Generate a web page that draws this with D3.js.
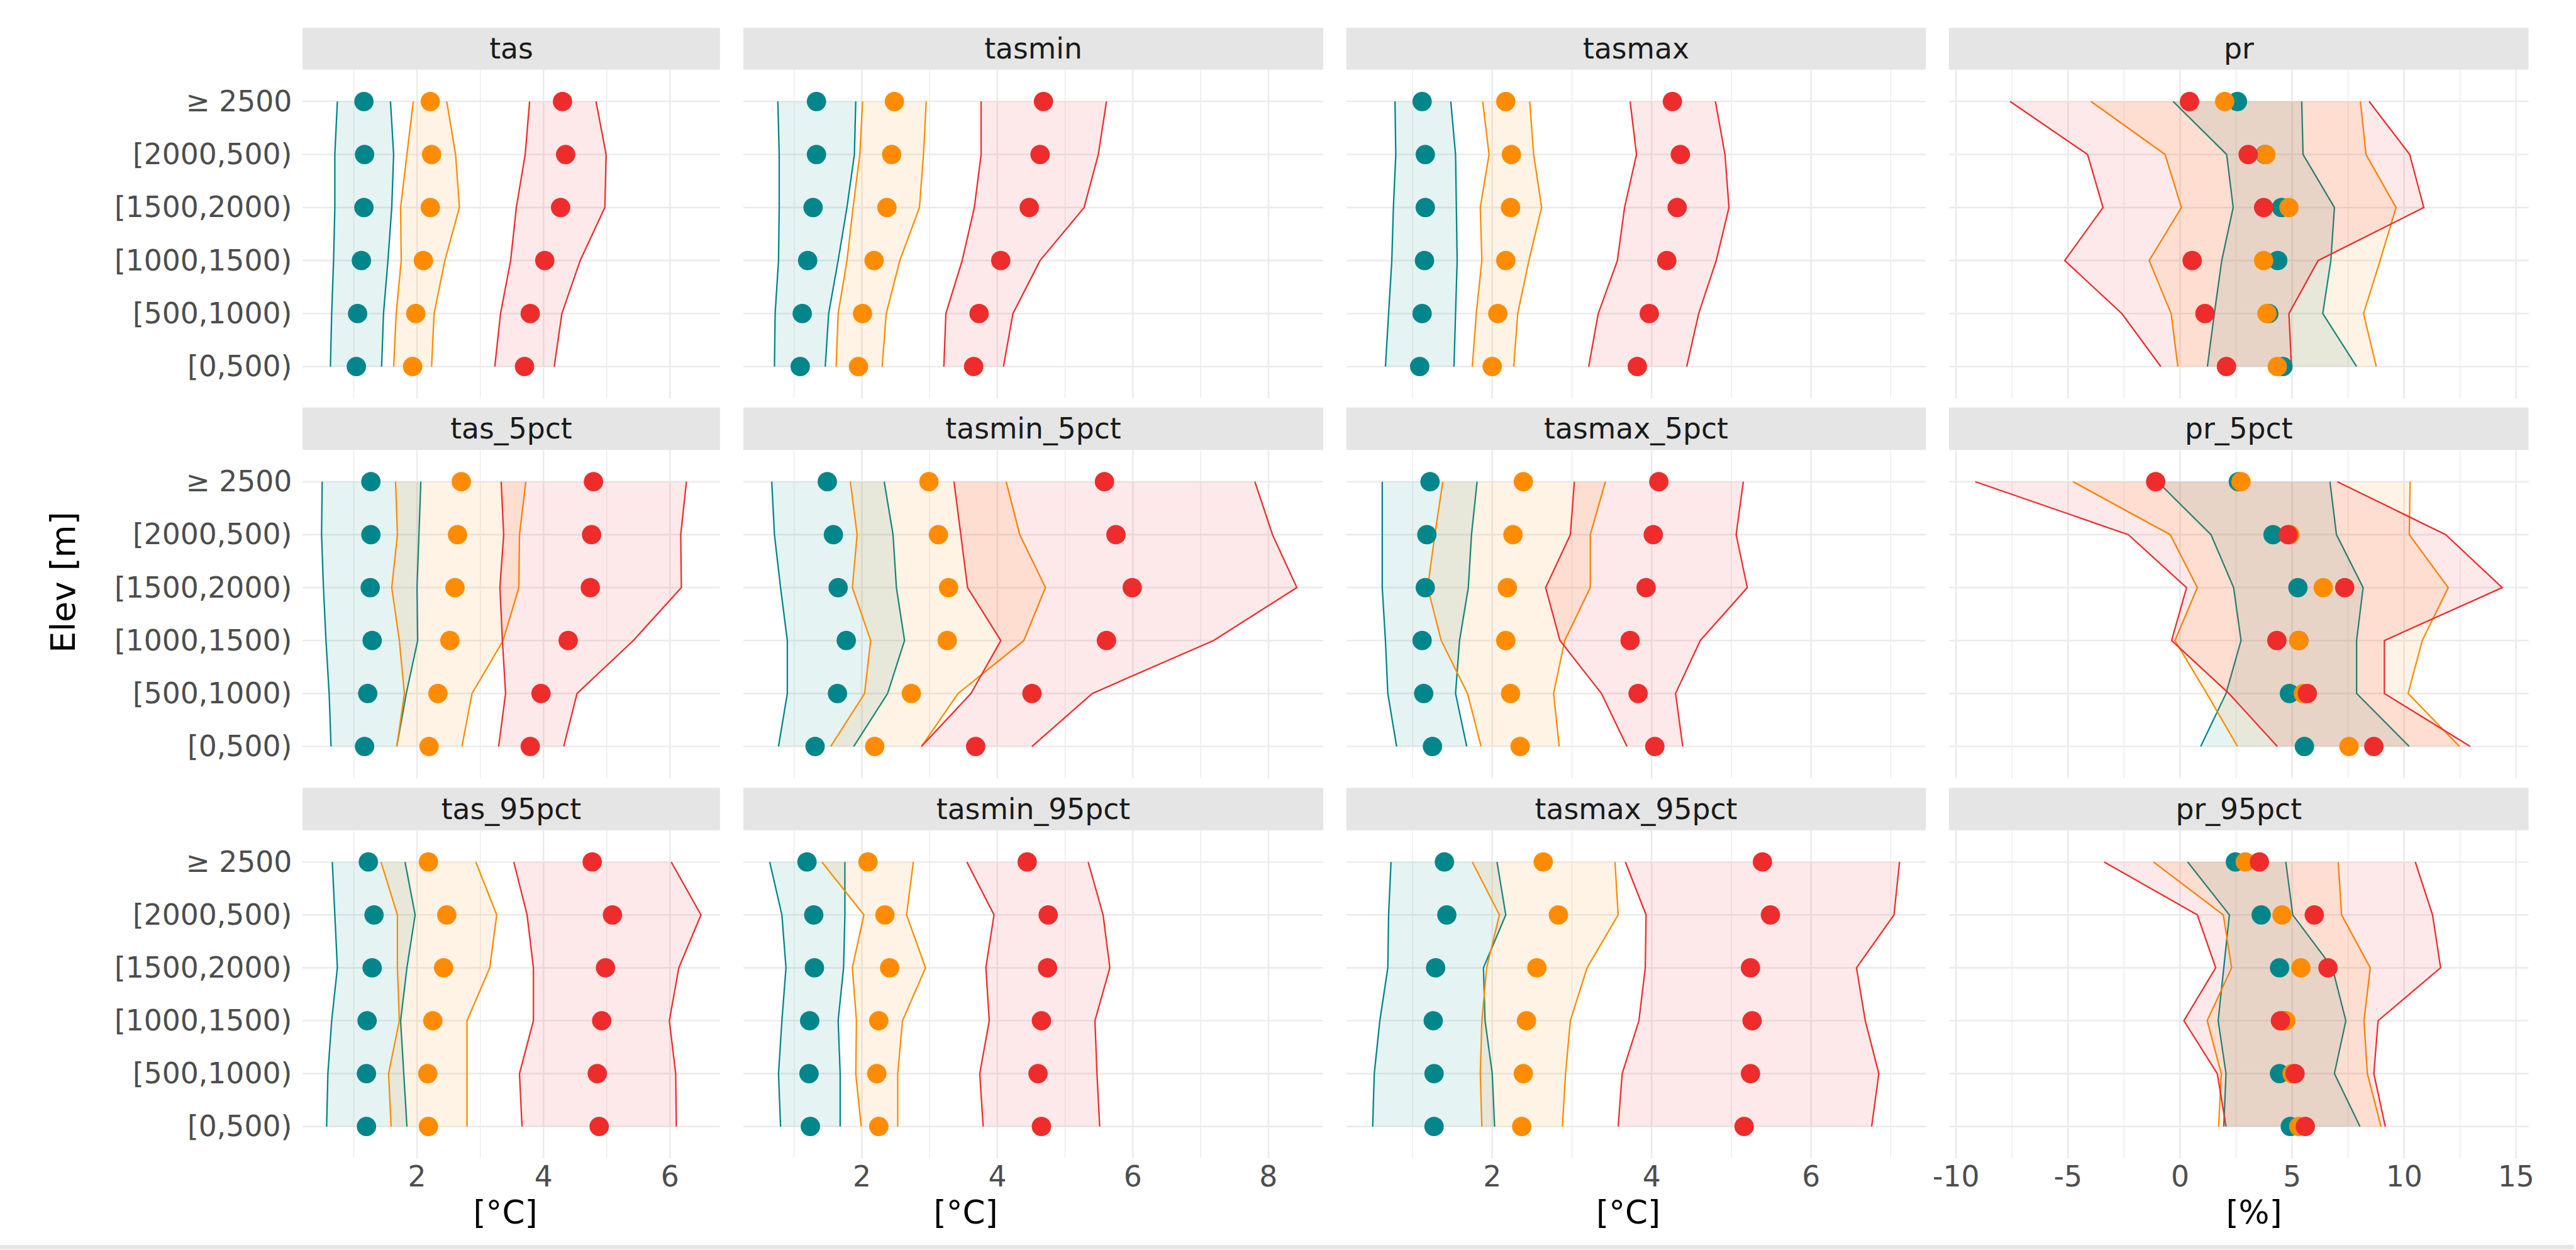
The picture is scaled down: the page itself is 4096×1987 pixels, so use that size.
<!DOCTYPE html>
<html>
<head>
<meta charset="utf-8">
<script src="https://cdn.jsdelivr.net/npm/d3@7"></script>
<style>
html,body{margin:0;padding:0;background:#fff;}
svg{display:block;}
</style>
</head>
<body>
<svg id="chart" width="4096" height="1987"></svg>
<script>
// ---------------- DATA ----------------
// elevation bands, top to bottom as displayed
const elevCats = ["≥ 2500", "[2000,500)", "[1500,2000)", "[1000,1500)", "[500,1000)", "[0,500)"];
const panelRows = [
  ["tas", "tasmin", "tasmax", "pr"],
  ["tas_5pct", "tasmin_5pct", "tasmax_5pct", "pr_5pct"],
  ["tas_95pct", "tasmin_95pct", "tasmax_95pct", "pr_95pct"]
];
const colTitles = ["[°C]", "[°C]", "[°C]", "[%]"];
const colTicks = [[2, 4, 6], [2, 4, 6, 8], [2, 4, 6], [-10, -5, 0, 5, 10, 15]];
const colMinor = [[1, 3, 5], [1, 3, 5, 7], [1, 3, 5, 7], [-7.5, -2.5, 2.5, 7.5, 12.5]];
const seriesColors = ["#00868B", "#FF8C00", "#EE2C2C"];

// each: [teal, orange, red], values per elevation band (top to bottom)
const tas_mid = [[1.16,1.17,1.16,1.12,1.06,1.04],[2.21,2.23,2.21,2.10,1.98,1.93],[4.30,4.35,4.27,4.02,3.79,3.70]];
const tas_lo  = [[0.74,0.70,0.70,0.68,0.65,0.63],[1.94,1.84,1.74,1.75,1.67,1.63],[3.78,3.71,3.57,3.48,3.32,3.23]];
const tas_hi  = [[1.58,1.63,1.60,1.54,1.47,1.44],[2.47,2.61,2.67,2.44,2.27,2.23],[4.83,4.99,4.97,4.58,4.29,4.17]];

const tasmin_mid = [[1.33,1.33,1.28,1.20,1.12,1.09],[2.48,2.44,2.37,2.18,2.01,1.95],[4.68,4.63,4.47,4.05,3.73,3.65]];
const tasmin_lo  = [[0.76,0.78,0.78,0.77,0.72,0.71],[2.01,1.97,1.87,1.78,1.65,1.62],[3.76,3.76,3.66,3.48,3.24,3.21]];
const tasmin_hi  = [[1.91,1.89,1.78,1.65,1.51,1.46],[2.95,2.91,2.85,2.56,2.36,2.30],[5.61,5.49,5.28,4.63,4.23,4.09]];

const tasmax_mid = [[1.12,1.16,1.16,1.15,1.12,1.09],[2.17,2.24,2.23,2.17,2.07,2.00],[4.26,4.36,4.32,4.19,3.97,3.82]];
const tasmax_lo  = [[0.78,0.79,0.76,0.74,0.70,0.66],[1.88,1.96,1.85,1.87,1.80,1.75],[3.73,3.81,3.66,3.57,3.33,3.21]];
const tasmax_hi  = [[1.48,1.54,1.55,1.56,1.54,1.52],[2.47,2.52,2.62,2.46,2.32,2.27],[4.80,4.92,4.97,4.81,4.59,4.44]];

const pr_mid = [[2.56,3.80,4.53,4.36,3.96,4.59],[1.99,3.83,4.86,3.73,3.88,4.34],[0.42,3.04,3.73,0.54,1.11,2.07]];
const pr_lo  = [[-0.31,2.08,2.37,1.86,1.53,1.22],[-3.98,-0.67,0.06,-1.38,-0.40,-0.10],[-7.59,-4.13,-3.44,-5.15,-2.60,-0.86]];
const pr_hi  = [[5.43,5.49,6.89,6.73,6.37,7.88],[8.05,8.30,9.64,8.93,8.19,8.76],[8.44,10.25,10.88,6.16,4.86,4.97]];

const tas_5pct_mid = [[1.27,1.27,1.26,1.29,1.22,1.17],[2.70,2.64,2.60,2.52,2.33,2.19],[4.79,4.76,4.74,4.39,3.96,3.79]];
const tas_5pct_lo  = [[0.50,0.49,0.52,0.56,0.61,0.64],[1.66,1.69,1.60,1.72,1.80,1.68],[3.33,3.37,3.31,3.35,3.40,3.29]];
const tas_5pct_hi  = [[2.06,2.03,2.00,2.01,1.83,1.68],[3.72,3.62,3.61,3.36,2.87,2.71],[6.26,6.17,6.18,5.42,4.53,4.32]];

const tasmin_5pct_mid = [[1.49,1.58,1.65,1.77,1.64,1.31],[2.99,3.13,3.28,3.26,2.73,2.19],[5.58,5.75,5.99,5.61,4.51,3.68]];
const tasmin_5pct_lo  = [[0.67,0.71,0.80,0.90,0.90,0.77],[1.83,1.93,1.86,2.13,2.04,1.54],[3.36,3.46,3.56,4.05,3.61,2.88]];
const tasmin_5pct_hi  = [[2.33,2.46,2.51,2.63,2.38,1.88],[4.13,4.33,4.71,4.39,3.42,2.88],[7.80,8.06,8.42,7.19,5.40,4.51]];

const tasmax_5pct_mid = [[1.22,1.18,1.16,1.12,1.14,1.25],[2.39,2.26,2.19,2.17,2.23,2.35],[4.09,4.02,3.93,3.73,3.83,4.04]];
const tasmax_5pct_lo  = [[0.62,0.62,0.62,0.66,0.69,0.80],[1.38,1.28,1.19,1.36,1.69,1.86],[3.03,2.98,2.67,2.85,3.37,3.69]];
const tasmax_5pct_hi  = [[1.81,1.74,1.70,1.59,1.54,1.68],[3.42,3.23,3.23,2.91,2.77,2.84],[5.15,5.06,5.20,4.61,4.30,4.39]];

const pr_5pct_mid = [[2.60,4.15,5.26,5.30,4.88,5.55],[2.72,4.90,6.39,5.30,5.50,7.54],[-1.09,4.82,7.35,4.32,5.68,8.65]];
const pr_5pct_lo  = [[-1.00,1.38,2.39,2.72,2.05,0.92],[-4.78,-0.44,0.77,-0.23,1.19,2.56],[-9.14,-2.31,0.29,-0.38,2.18,4.34]];
const pr_5pct_hi  = [[6.69,6.98,8.17,7.88,7.88,10.23],[10.27,10.23,11.97,10.81,10.18,12.47],[7.02,11.86,14.38,9.12,9.12,12.95]];

const tas_95pct_mid = [[1.23,1.32,1.29,1.21,1.20,1.20],[2.18,2.47,2.42,2.25,2.17,2.18],[4.77,5.09,4.98,4.92,4.85,4.88]];
const tas_95pct_lo  = [[0.66,0.70,0.74,0.65,0.59,0.57],[1.43,1.69,1.69,1.72,1.55,1.59],[3.53,3.74,3.84,3.84,3.62,3.66]];
const tas_95pct_hi  = [[1.81,1.97,1.84,1.74,1.79,1.84],[2.93,3.26,3.15,2.79,2.79,2.79],[6.02,6.49,6.14,5.99,6.09,6.10]];

const tasmin_95pct_mid = [[1.19,1.29,1.30,1.23,1.22,1.24],[2.09,2.34,2.41,2.25,2.22,2.25],[4.44,4.75,4.74,4.65,4.60,4.65]];
const tasmin_95pct_lo  = [[0.64,0.82,0.88,0.82,0.77,0.80],[1.41,2.03,1.86,1.92,1.91,1.99],[3.55,3.95,3.83,3.88,3.74,3.79]];
const tasmin_95pct_hi  = [[1.75,1.75,1.73,1.65,1.68,1.68],[2.76,2.66,2.94,2.60,2.53,2.53],[5.34,5.56,5.66,5.44,5.47,5.51]];

const tasmax_95pct_mid = [[1.40,1.43,1.29,1.26,1.27,1.27],[2.64,2.83,2.56,2.43,2.39,2.37],[5.39,5.49,5.24,5.26,5.24,5.16]];
const tasmax_95pct_lo  = [[0.73,0.70,0.69,0.59,0.52,0.50],[1.75,2.09,1.93,1.87,1.85,1.87],[3.67,3.93,3.92,3.84,3.63,3.58]];
const tasmax_95pct_hi  = [[2.06,2.17,1.89,1.91,2.00,2.03],[3.54,3.58,3.19,2.98,2.92,2.88],[7.11,7.04,6.57,6.68,6.85,6.76]];

const pr_95pct_mid = [[2.47,3.62,4.44,4.60,4.44,4.92],[2.91,4.55,5.39,4.72,5.00,5.30],[3.54,5.99,6.60,4.48,5.13,5.59]];
const pr_95pct_lo  = [[0.34,2.20,1.95,1.70,2.05,1.95],[-1.19,1.93,2.30,1.21,1.84,1.72],[-3.39,0.77,1.59,0.17,1.66,2.05]];
const pr_95pct_hi  = [[4.72,5.03,6.80,7.40,6.89,8.03],[7.06,7.21,8.49,8.21,8.36,8.97],[10.50,11.27,11.63,8.84,8.65,9.16]];

const panelData = {
  tas: [tas_mid, tas_lo, tas_hi],
  tasmin: [tasmin_mid, tasmin_lo, tasmin_hi],
  tasmax: [tasmax_mid, tasmax_lo, tasmax_hi],
  pr: [pr_mid, pr_lo, pr_hi],
  tas_5pct: [tas_5pct_mid, tas_5pct_lo, tas_5pct_hi],
  tasmin_5pct: [tasmin_5pct_mid, tasmin_5pct_lo, tasmin_5pct_hi],
  tasmax_5pct: [tasmax_5pct_mid, tasmax_5pct_lo, tasmax_5pct_hi],
  pr_5pct: [pr_5pct_mid, pr_5pct_lo, pr_5pct_hi],
  tas_95pct: [tas_95pct_mid, tas_95pct_lo, tas_95pct_hi],
  tasmin_95pct: [tasmin_95pct_mid, tasmin_95pct_lo, tasmin_95pct_hi],
  tasmax_95pct: [tasmax_95pct_mid, tasmax_95pct_lo, tasmax_95pct_hi],
  pr_95pct: [pr_95pct_mid, pr_95pct_lo, pr_95pct_hi]
};

// ---------------- LAYOUT (reference pixel units) ----------------
const S = 0.992;
const colX = [[485, 1154], [1191.5, 2121], [2158, 3087], [3124, 4053]];
const rowY = [ // [stripTop, panelTop, panelBottom]
  [44.6, 111.6, 638.4],
  [653, 721, 1247],
  [1262.5, 1330.4, 1856]
];
const titleX = [810, 1548, 2610, 3613];
const FONT = "DejaVu Sans";

const svg = d3.select("#chart");
const root = svg.append("g").attr("transform", `scale(${S})`);

// faint bottom band present in the reference
root.append("rect").attr("x", 0).attr("y", 1995).attr("width", 4126).attr("height", 7).attr("fill", "#e1e6e6");

// x scales per column, with 5% expansion like ggplot
const xScales = colX.map((cx, c) => {
  const vals = [];
  panelRows.forEach(r => panelData[r[c]].forEach(arr => arr.forEach(s => s.forEach(v => vals.push(v)))));
  const [mn, mx] = d3.extent(vals);
  const pad = (mx - mn) * 0.05;
  return d3.scaleLinear().domain([mn - pad, mx + pad]).range(cx);
});

rowY.forEach((ry, r) => {
  const y = d3.scalePoint().domain(elevCats).range([ry[1], ry[2]]).padding(0.6);
  colX.forEach((cx, c) => {
    const name = panelRows[r][c];
    const x = xScales[c];
    const g = root.append("g");
    // strip
    g.append("rect").attr("x", cx[0]).attr("y", ry[0]).attr("width", cx[1] - cx[0]).attr("height", ry[1] - ry[0]).attr("fill", "#e5e5e5");
    g.append("text").attr("x", (cx[0] + cx[1]) / 2).attr("y", (ry[0] + ry[1]) / 2)
      .attr("text-anchor", "middle").attr("dominant-baseline", "central")
      .attr("font-family", FONT).attr("font-size", 46).attr("fill", "#1a1a1a").text(name);
    // grid
    const grid = g.append("g");
    grid.selectAll(".vmin").data(colMinor[c]).join("line")
      .attr("x1", d => x(d)).attr("x2", d => x(d)).attr("y1", ry[1]).attr("y2", ry[2])
      .attr("stroke", "#ebebeb").attr("stroke-width", 1.4);
    grid.selectAll(".vmaj").data(colTicks[c]).join("line")
      .attr("x1", d => x(d)).attr("x2", d => x(d)).attr("y1", ry[1]).attr("y2", ry[2])
      .attr("stroke", "#ebebeb").attr("stroke-width", 2.6);
    grid.selectAll(".h").data(elevCats).join("line")
      .attr("x1", cx[0]).attr("x2", cx[1]).attr("y1", d => y(d)).attr("y2", d => y(d))
      .attr("stroke", "#ebebeb").attr("stroke-width", 2.6);

    const [mid, lo, hi] = panelData[name];
    // ribbons (fill + outline per series)
    seriesColors.forEach((col, s) => {
      const pts = elevCats.map((e, i) => ({ e, lo: lo[s][i], hi: hi[s][i] }));
      const area = d3.area().y(d => y(d.e)).x0(d => x(d.lo)).x1(d => x(d.hi));
      g.append("path").attr("d", area(pts)).attr("fill", col).attr("fill-opacity", 0.1);
      const lnLo = d3.line().y(d => y(d.e)).x(d => x(d.lo));
      const lnHi = d3.line().y(d => y(d.e)).x(d => x(d.hi));
      g.append("path").attr("d", lnLo(pts)).attr("fill", "none").attr("stroke", col).attr("stroke-width", 2.3);
      g.append("path").attr("d", lnHi(pts)).attr("fill", "none").attr("stroke", col).attr("stroke-width", 2.3);
    });
    // points
    seriesColors.forEach((col, s) => {
      g.selectAll(null).data(elevCats.map((e, i) => ({ e, v: mid[s][i] }))).join("circle")
        .attr("cx", d => x(d.v)).attr("cy", d => y(d.e)).attr("r", 15.5).attr("fill", col);
    });

    // y axis labels (first column)
    if (c === 0) {
      g.selectAll(null).data(elevCats).join("text")
        .attr("x", 468).attr("y", d => y(d)).attr("text-anchor", "end").attr("dominant-baseline", "central")
        .attr("font-family", FONT).attr("font-size", 46).attr("fill", "#4d4d4d").text(d => d);
    }
    // x axis labels (bottom row)
    if (r === rowY.length - 1) {
      g.selectAll(null).data(colTicks[c]).join("text")
        .attr("x", d => x(d)).attr("y", 1886).attr("text-anchor", "middle").attr("dominant-baseline", "central")
        .attr("font-family", FONT).attr("font-size", 46).attr("fill", "#4d4d4d").text(d => d);
      g.append("text").attr("x", titleX[c]).attr("y", 1943).attr("text-anchor", "middle").attr("dominant-baseline", "central")
        .attr("font-family", FONT).attr("font-size", 52).attr("fill", "#000").text(colTitles[c]);
    }
  });
});

root.append("text").attr("transform", "translate(101,933) rotate(-90)")
  .attr("text-anchor", "middle").attr("dominant-baseline", "central")
  .attr("font-family", FONT).attr("font-size", 54).attr("fill", "#000").text("Elev [m]");
</script>
</body>
</html>
